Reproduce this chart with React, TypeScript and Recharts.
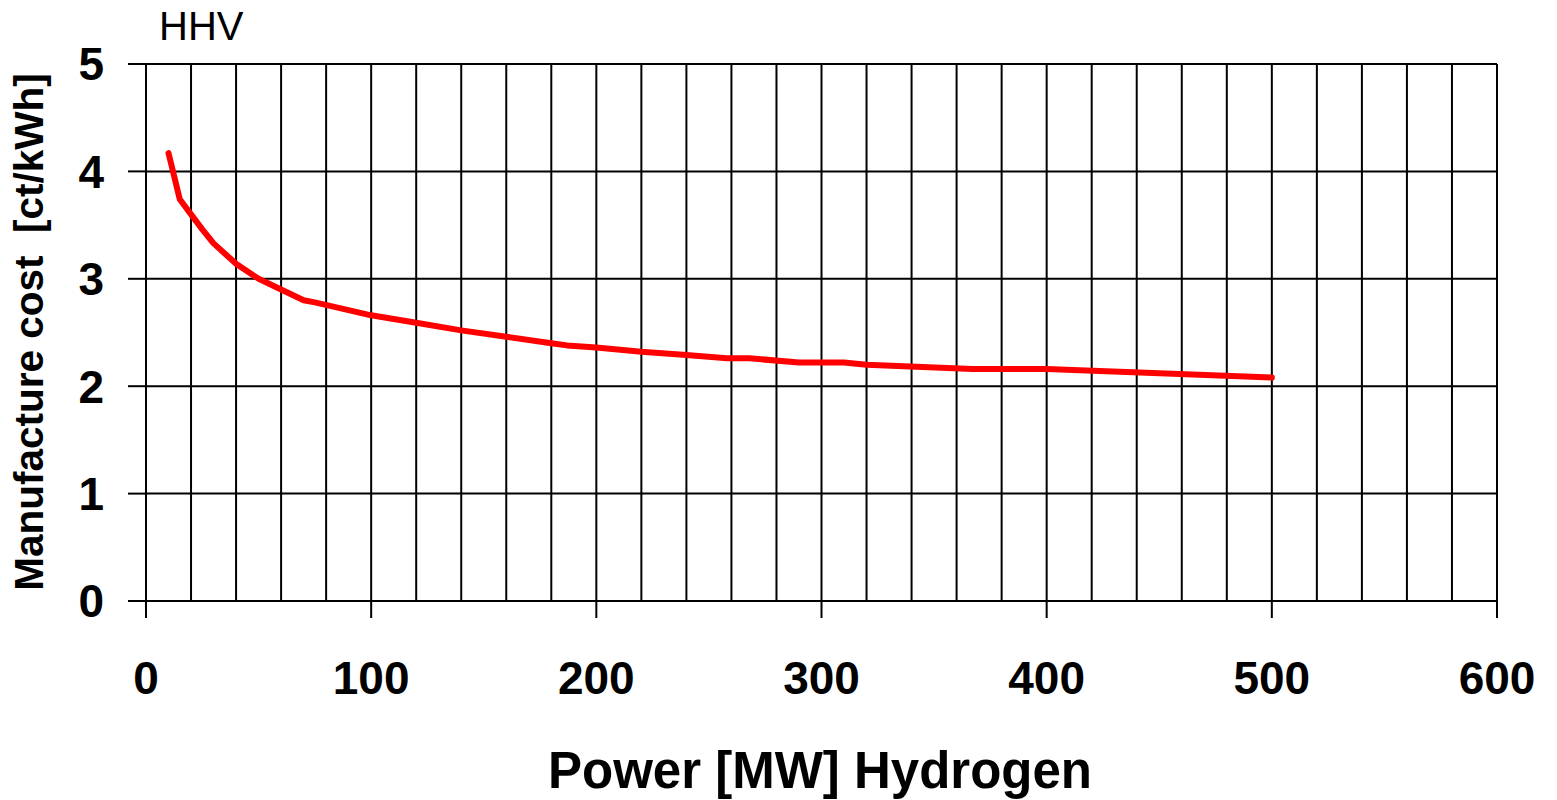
import { LineChart, Line, XAxis, YAxis, CartesianGrid } from "recharts";

// Power [MW] and manufacture cost [ct/kWh]
const power = [10, 15, 20, 25, 30, 40, 50, 60, 70, 75, 100, 120, 140, 160, 180, 187, 200, 220, 240, 258, 268, 290, 310, 320, 367, 400, 500];
const cost = [4.17, 3.74, 3.6, 3.46, 3.33, 3.14, 3.0, 2.9, 2.8, 2.78, 2.66, 2.59, 2.52, 2.46, 2.4, 2.38, 2.36, 2.32, 2.29, 2.26, 2.26, 2.22, 2.22, 2.2, 2.16, 2.16, 2.08];

const xTicks = [0, 100, 200, 300, 400, 500, 600];
const yTicks = [0, 1, 2, 3, 4, 5];
// vertical grid every 20 MW
const gridX = [0, 20, 40, 60, 80, 100, 120, 140, 160, 180, 200, 220, 240, 260, 280, 300, 320, 340, 360, 380, 400, 420, 440, 460, 480, 500, 520, 540, 560, 580, 600];

const data = power.map((p, i) => ({ power: p, cost: cost[i] }));

const FONT = "'Liberation Sans', Arial, sans-serif";
const tickStyle = { fill: "#000", fontSize: 46, fontWeight: "bold", fontFamily: FONT };

export default function App() {
  return (
    <div style={{ position: "relative", width: 1549, height: 792 }}>
      <LineChart width={1549} height={792} data={data} margin={{ top: 56, right: 60, bottom: 0, left: 0 }}>
        <XAxis xAxisId="grid" dataKey="power" type="number" domain={[0, 600]} ticks={gridX} interval={0} hide />
        <CartesianGrid xAxisId="grid" stroke="#000" strokeWidth={2} />
        <XAxis
          dataKey="power"
          type="number"
          domain={[0, 600]}
          ticks={xTicks}
          interval={0}
          height={199}
          tickSize={17}
          tickMargin={43}
          axisLine={{ stroke: "#000", strokeWidth: 2 }}
          tickLine={{ stroke: "#000", strokeWidth: 2 }}
          tick={tickStyle}
        />
        <YAxis
          type="number"
          domain={[0, 5]}
          ticks={yTicks}
          interval={0}
          width={138}
          tickSize={18}
          tickMargin={24}
          axisLine={{ stroke: "#000", strokeWidth: 2 }}
          tickLine={{ stroke: "#000", strokeWidth: 2 }}
          tick={tickStyle}
        />
        <Line
          dataKey="cost"
          type="linear"
          stroke="#ff0000"
          strokeWidth={6}
          strokeLinejoin="round"
          strokeLinecap="round"
          dot={false}
          activeDot={false}
          isAnimationActive={false}
        />
      </LineChart>
      {/* titles, in page coordinates */}
      <svg width={1557} height={800} style={{ position: "absolute", left: -8, top: -8, pointerEvents: "none" }}>
        <text x={159} y={40} fontSize={40} fontFamily={FONT} fill="#000">
          HHV
        </text>
        <text
          x={43}
          y={332}
          transform="rotate(-90 43 332)"
          textAnchor="middle"
          fontSize={40.5}
          fontWeight="bold"
          fontFamily={FONT}
          fill="#000"
          style={{ whiteSpace: "pre" }}
        >
          {"Manufacture cost  [ct/kWh]"}
        </text>
        <text x={820} y={788} textAnchor="middle" fontSize={51} fontWeight="bold" fontFamily={FONT} fill="#000">
          Power [MW] Hydrogen
        </text>
      </svg>
    </div>
  );
}
